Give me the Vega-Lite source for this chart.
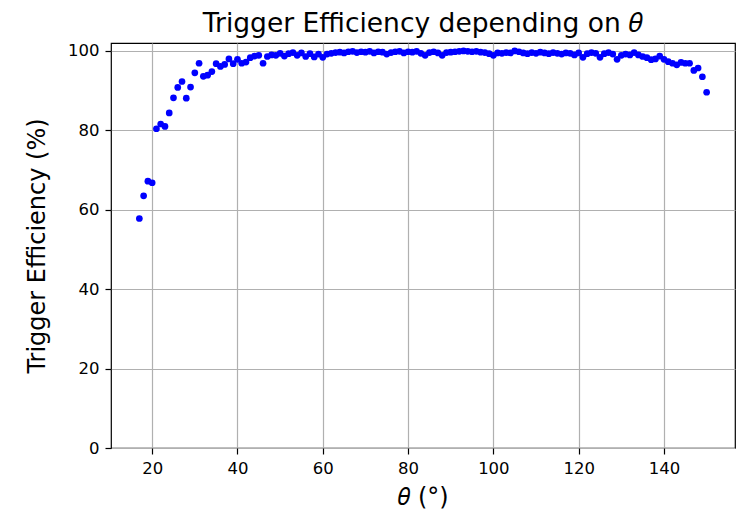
{
  "$schema": "https://vega.github.io/schema/vega-lite/v6.json",
  "width": 624,
  "height": 405,
  "autosize": {"type": "none"},
  "padding": {"left": 111, "top": 43, "right": 7, "bottom": 66},
  "background": "white",
  "title": {"text": "Trigger Efficiency depending on 𝜃", "font": "DejaVu Sans", "fontSize": 26.5, "fontWeight": "normal", "baseline": "alphabetic", "offset": 12, "dy": 28, "anchor": "middle", "frame": "group", "color": "black"},
  "config": {
    "view": {"stroke": "black", "strokeWidth": 1.2},
    "axis": {
      "domain": false,
      "grid": true,
      "gridColor": "#b0b0b0",
      "gridWidth": 1.2,
      "gridOpacity": 1,
      "ticks": true,
      "tickColor": "black",
      "tickSize": 6,
      "tickWidth": 1.2,
      "labelFont": "DejaVu Sans",
      "labelFontSize": 16.5,
      "labelColor": "black",
      "labelPadding": 6,
      "titleFont": "DejaVu Sans",
      "titleFontSize": 24,
      "titleFontWeight": "normal",
      "titleColor": "black"
    }
  },
  "data": {"values": [
    {"theta": 17, "eff": 57.8}, {"theta": 18, "eff": 63.5}, {"theta": 19, "eff": 67.2}, {"theta": 20, "eff": 66.8},
    {"theta": 21, "eff": 80.4}, {"theta": 22, "eff": 81.6}, {"theta": 23, "eff": 81.0}, {"theta": 24, "eff": 84.4},
    {"theta": 25, "eff": 88.2}, {"theta": 26, "eff": 90.8}, {"theta": 27, "eff": 92.3}, {"theta": 28, "eff": 88.1},
    {"theta": 29, "eff": 90.9}, {"theta": 30, "eff": 94.5}, {"theta": 31, "eff": 96.9}, {"theta": 32, "eff": 93.6},
    {"theta": 33, "eff": 93.9}, {"theta": 34, "eff": 94.8}, {"theta": 35, "eff": 96.8}, {"theta": 36, "eff": 96.1},
    {"theta": 37, "eff": 96.6}, {"theta": 38, "eff": 98.0}, {"theta": 39, "eff": 96.8}, {"theta": 40, "eff": 97.9},
    {"theta": 41, "eff": 96.9}, {"theta": 42, "eff": 97.2}, {"theta": 43, "eff": 98.3}, {"theta": 44, "eff": 98.7},
    {"theta": 45, "eff": 98.9}, {"theta": 46, "eff": 96.9}, {"theta": 47, "eff": 98.6}, {"theta": 48, "eff": 99.0},
    {"theta": 49, "eff": 98.9}, {"theta": 50, "eff": 99.4}, {"theta": 51, "eff": 98.7}, {"theta": 52, "eff": 99.3},
    {"theta": 53, "eff": 99.6}, {"theta": 54, "eff": 98.9}, {"theta": 55, "eff": 99.5}, {"theta": 56, "eff": 98.6},
    {"theta": 57, "eff": 99.3}, {"theta": 58, "eff": 98.5}, {"theta": 59, "eff": 99.2}, {"theta": 60, "eff": 98.4},
    {"theta": 61, "eff": 99.2}, {"theta": 62, "eff": 99.4}, {"theta": 63, "eff": 99.6}, {"theta": 64, "eff": 99.7},
    {"theta": 65, "eff": 99.5}, {"theta": 66, "eff": 99.8}, {"theta": 67, "eff": 99.9}, {"theta": 68, "eff": 99.6},
    {"theta": 69, "eff": 99.8}, {"theta": 70, "eff": 99.7}, {"theta": 71, "eff": 99.9}, {"theta": 72, "eff": 99.5},
    {"theta": 73, "eff": 99.8}, {"theta": 74, "eff": 99.7}, {"theta": 75, "eff": 99.2}, {"theta": 76, "eff": 99.6},
    {"theta": 77, "eff": 99.8}, {"theta": 78, "eff": 99.9}, {"theta": 79, "eff": 99.5}, {"theta": 80, "eff": 99.8},
    {"theta": 81, "eff": 99.7}, {"theta": 82, "eff": 99.9}, {"theta": 83, "eff": 99.4}, {"theta": 84, "eff": 98.9},
    {"theta": 85, "eff": 99.6}, {"theta": 86, "eff": 99.8}, {"theta": 87, "eff": 99.5}, {"theta": 88, "eff": 98.9},
    {"theta": 89, "eff": 99.6}, {"theta": 90, "eff": 99.7}, {"theta": 91, "eff": 99.8}, {"theta": 92, "eff": 99.9},
    {"theta": 93, "eff": 100.0}, {"theta": 94, "eff": 99.9}, {"theta": 95, "eff": 99.8}, {"theta": 96, "eff": 99.9},
    {"theta": 97, "eff": 99.7}, {"theta": 98, "eff": 99.6}, {"theta": 99, "eff": 99.3}, {"theta": 100, "eff": 98.9},
    {"theta": 101, "eff": 99.5}, {"theta": 102, "eff": 99.4}, {"theta": 103, "eff": 99.6}, {"theta": 104, "eff": 99.5},
    {"theta": 105, "eff": 100.0}, {"theta": 106, "eff": 99.8}, {"theta": 107, "eff": 99.5}, {"theta": 108, "eff": 99.3},
    {"theta": 109, "eff": 99.6}, {"theta": 110, "eff": 99.4}, {"theta": 111, "eff": 99.7}, {"theta": 112, "eff": 99.5},
    {"theta": 113, "eff": 99.3}, {"theta": 114, "eff": 99.6}, {"theta": 115, "eff": 99.4}, {"theta": 116, "eff": 99.2},
    {"theta": 117, "eff": 99.5}, {"theta": 118, "eff": 99.4}, {"theta": 119, "eff": 99.0}, {"theta": 120, "eff": 99.5},
    {"theta": 121, "eff": 98.4}, {"theta": 122, "eff": 99.3}, {"theta": 123, "eff": 99.6}, {"theta": 124, "eff": 99.4},
    {"theta": 125, "eff": 98.4}, {"theta": 126, "eff": 99.3}, {"theta": 127, "eff": 99.6}, {"theta": 128, "eff": 99.2},
    {"theta": 129, "eff": 97.9}, {"theta": 130, "eff": 98.9}, {"theta": 131, "eff": 99.2}, {"theta": 132, "eff": 99.0},
    {"theta": 133, "eff": 99.6}, {"theta": 134, "eff": 99.0}, {"theta": 135, "eff": 98.6}, {"theta": 136, "eff": 98.3},
    {"theta": 137, "eff": 97.8}, {"theta": 138, "eff": 98.0}, {"theta": 139, "eff": 98.7}, {"theta": 140, "eff": 97.9},
    {"theta": 141, "eff": 97.3}, {"theta": 142, "eff": 96.9}, {"theta": 143, "eff": 96.5}, {"theta": 144, "eff": 97.1},
    {"theta": 145, "eff": 96.9}, {"theta": 146, "eff": 96.9}, {"theta": 147, "eff": 95.1}, {"theta": 148, "eff": 95.7},
    {"theta": 149, "eff": 93.5}, {"theta": 150, "eff": 89.6}
  ]},
  "mark": {"type": "circle", "color": "#0000ff", "size": 45, "opacity": 1},
  "encoding": {
    "x": {
      "field": "theta",
      "type": "quantitative",
      "scale": {"domain": [10.35, 156.65], "nice": false, "zero": false},
      "axis": {"values": [20, 40, 60, 80, 100, 120, 140], "title": "𝜃 (°)", "titleBaseline": "alphabetic", "titleY": 56}
    },
    "y": {
      "field": "eff",
      "type": "quantitative",
      "scale": {"domain": [0, 102], "nice": false},
      "axis": {"values": [0, 20, 40, 60, 80, 100], "title": "Trigger Efficiency (%)", "titleBaseline": "alphabetic", "titleX": -67}
    }
  }
}
